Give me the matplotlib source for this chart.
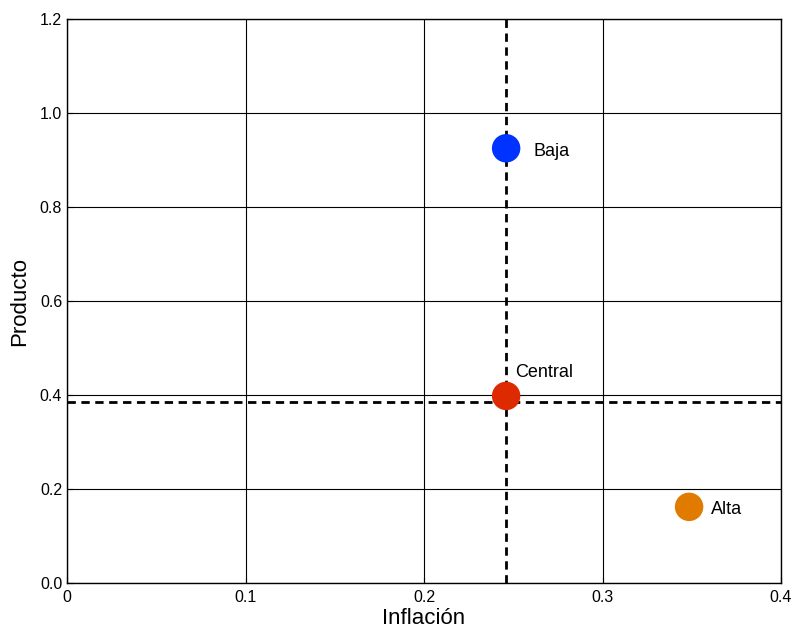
import numpy as np
import matplotlib.pyplot as plt

plt.rcParams['font.family'] = ['Liberation Sans', 'DejaVu Sans']

# scenario points
names = ['Baja', 'Central', 'Alta']
inflacion = [0.246, 0.246, 0.3485]
producto = [0.925, 0.398, 0.162]
colors = ['#0033ff', '#dd2a00', '#e07b00']

# reference lines
x_ref = 0.246
y_ref = 0.385

xticks = [0, 0.1, 0.2, 0.3, 0.4]
xticklabels = ['0', '0.1', '0.2', '0.3', '0.4']
yticks = [0.0, 0.2, 0.4, 0.6, 0.8, 1.0, 1.2]
yticklabels = ['0.0', '0.2', '0.4', '0.6', '0.8', '1.0', '1.2']

fig = plt.figure(figsize=(7.93, 6.28), dpi=100)
ax = fig.add_axes([0.0845, 0.0717, 0.9004, 0.898])

ax.grid(True, color='black', linewidth=0.8)
ax.set_axisbelow(True)

ax.axvline(x_ref, color='black', linestyle=(0, (3, 2)), linewidth=2, zorder=2)
ax.axhline(y_ref, color='black', linestyle=(0, (3, 2)), linewidth=2, zorder=2)

ax.scatter(inflacion, producto, s=420, c=colors, zorder=3, linewidths=0)

offsets = {'Baja': (19.5, -2), 'Central': (6.5, 17), 'Alta': (16, -2)}
for n, x, y in zip(names, inflacion, producto):
    dx, dy = offsets[n]
    ax.annotate(n, (x, y), xytext=(dx, dy), textcoords='offset points',
                fontsize=13, va='center', ha='left')

ax.set_xlim(0, 0.4)
ax.set_ylim(0, 1.2)
ax.set_xticks(xticks)
ax.set_xticklabels(xticklabels)
ax.set_yticks(yticks)
ax.set_yticklabels(yticklabels)
ax.tick_params(direction='in', length=4, labelsize=11.5)
ax.tick_params(axis='x', pad=5)
ax.tick_params(axis='y', pad=3.5)

for s in ax.spines.values():
    s.set_linewidth(1.0)

ax.set_xlabel('Inflación', fontsize=16, labelpad=2)
ax.set_ylabel('Producto', fontsize=16, labelpad=7)

fig.savefig('out.png', dpi=100)
